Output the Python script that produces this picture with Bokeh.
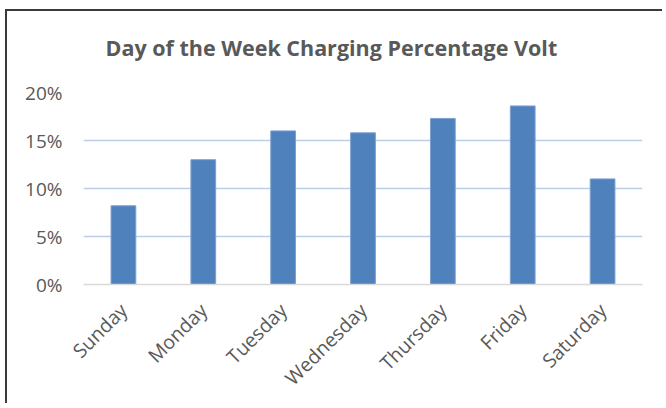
import math
from bokeh.plotting import figure
from bokeh.models import Range1d, NumeralTickFormatter, FixedTicker, Title
from bokeh.embed import file_html
from bokeh.resources import INLINE

days = ["Sunday", "Monday", "Tuesday", "Wednesday", "Thursday", "Friday", "Saturday"]
share = [0.082, 0.130, 0.160, 0.158, 0.173, 0.186, 0.110]
y_ticks = [0.0, 0.05, 0.10, 0.15, 0.20]
title_text = "Day of the Week Charging Percentage Volt"

p = figure(x_range=days, y_range=Range1d(0, 0.2), width=657, height=394,
           output_backend="svg", toolbar_location=None,
           min_border_left=76, min_border_right=22, min_border_top=81,
           min_border_bottom=121)
p.styles = {"margin-left": "5px", "margin-top": "9px",
            "border-left": "2px solid #3a3a3a", "border-top": "2px solid #3a3a3a"}

# empty spacer panel between the title and the plot frame
spacer = Title(text=" ", text_font_size="1px", standoff=26)
p.add_layout(spacer, "above")

t = Title(text=title_text, align="left", offset=22, text_font="Open Sans",
          text_font_size="21.5px", text_font_style="bold", text_color="#595959",
          standoff=4)
p.add_layout(t, "above")

p.vbar(x=days, top=share, width=0.31, fill_color="#4F81BD",
       line_color="#7EA1D1", line_width=1)

p.outline_line_color = None
p.xgrid.grid_line_color = None
p.ygrid.ticker = FixedTicker(ticks=y_ticks)
p.ygrid.grid_line_color = "#BCCFEA"
p.ygrid.grid_line_width = 1.6

p.yaxis.ticker = FixedTicker(ticks=y_ticks)
p.yaxis.formatter = NumeralTickFormatter(format="0%")
p.yaxis.axis_line_color = None
p.yaxis.major_tick_line_color = None
p.yaxis.minor_tick_line_color = None
p.yaxis.major_label_standoff = 15
p.yaxis.major_label_text_font = "Open Sans"
p.yaxis.major_label_text_font_size = "19px"
p.yaxis.major_label_text_color = "#595959"

p.xaxis.axis_line_color = "#D9D9D9"
p.xaxis.axis_line_width = 1.5
p.xaxis.major_tick_line_color = None
p.xaxis.minor_tick_line_color = None
p.xaxis.major_label_orientation = math.pi / 4
p.xaxis.major_label_standoff = 16
p.xaxis.major_label_text_font = "Open Sans"
p.xaxis.major_label_text_font_size = "19.5px"
p.xaxis.major_label_text_color = "#595959"

open("out.html", "w").write(file_html(p, INLINE))
